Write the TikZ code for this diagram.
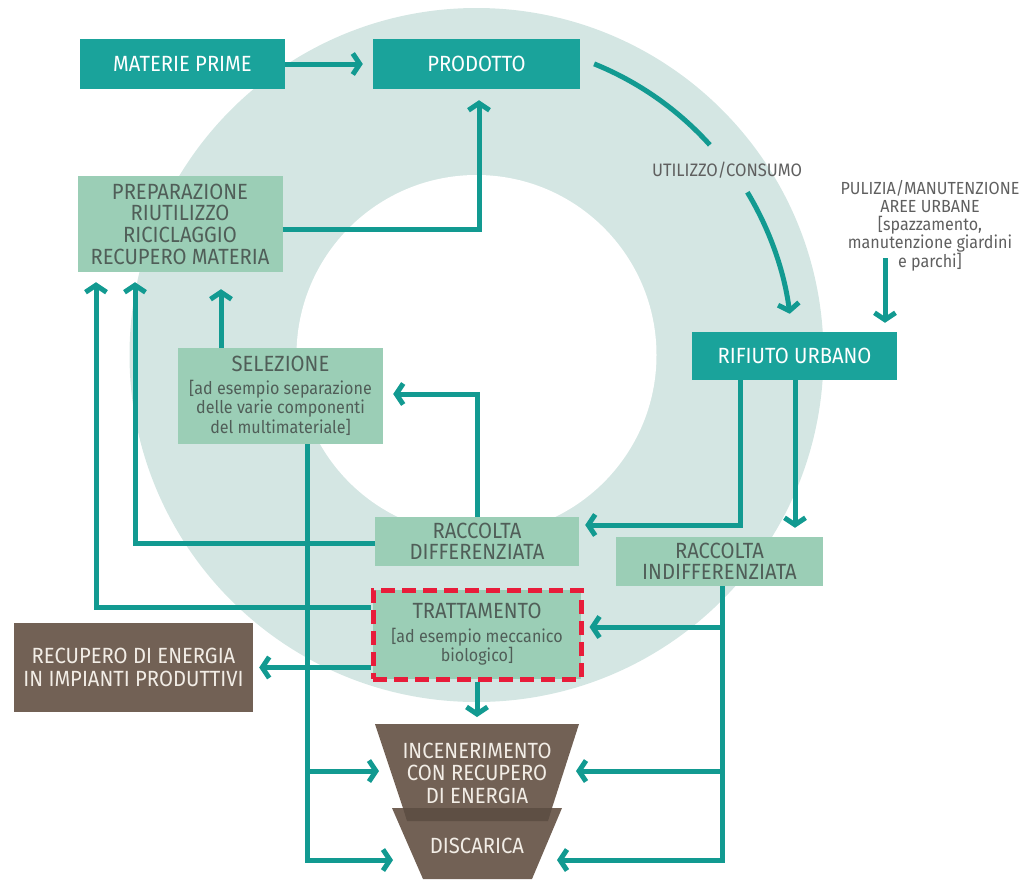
\documentclass[tikz,border=0pt]{standalone}
\usepackage{fontspec}
\setmainfont{Fira Sans}[FakeStretch=0.92]
\usetikzlibrary{arrows.meta}
\definecolor{ringc}{RGB}{212,230,227}
\definecolor{tealbox}{RGB}{26,163,155}
\definecolor{tealline}{RGB}{18,154,145}
\definecolor{lightbox}{RGB}{155,206,182}
\definecolor{lighttext}{RGB}{80,94,88}
\definecolor{brownbox}{RGB}{114,97,85}
\definecolor{browndark}{RGB}{94,79,68}
\definecolor{redline}{RGB}{232,28,58}
\definecolor{greytext}{RGB}{95,95,95}
\definecolor{browntext}{RGB}{242,237,230}
\newcommand\bigsz{\fontsize{22}{22.5}\selectfont}
\newcommand\subsz{\fontsize{17.5}{19.5}\selectfont}
\tikzset{
  basenode/.style={inner sep=0pt, align=center, anchor=center},
  tealnode/.style={basenode, fill=tealbox, text=white, font=\bigsz},
  lightnode/.style={basenode, fill=lightbox, text=lighttext, font=\bigsz},
  brownnode/.style={basenode, fill=brownbox, text=browntext, font=\bigsz},
  browntxt/.style={basenode, text=browntext, font=\bigsz},
  greylabel/.style={basenode, text=greytext},
  conn/.style={draw=tealline, line width=5pt},
  flow/.style={conn, -{Straight Barb[length=7pt,width=21pt]}}
}
\begin{document}
\begin{tikzpicture}[x=1pt,y=-1pt]
\useasboundingbox (0,0) rectangle (1026,879);
\clip (0,0) rectangle (1026,879);
% ring
\coordinate (C) at (476.5,355);
\fill[ringc] (C) circle (347pt);
\fill[white] (C) circle (180pt);

% boxes
\node[tealnode, minimum width=205pt, minimum height=50pt] (mat) at (182.5,64) {MATERIE PRIME};
\node[tealnode, minimum width=207pt, minimum height=50pt] (prod) at (476.5,64) {PRODOTTO};
\node[lightnode, minimum width=205pt, minimum height=96pt, font=\fontsize{22}{21.7}\selectfont] (prep) at (180,224) {PREPARAZIONE\\RIUTILIZZO\\RICICLAGGIO\\RECUPERO MATERIA};
\node[tealnode, minimum width=205pt, minimum height=48pt] (rif) at (794.5,356) {RIFIUTO URBANO};
\node[lightnode, minimum width=205pt, minimum height=96pt, font=\subsz] (sel) at (280.5,396) {{\bigsz SELEZIONE}\\[3pt]{[}ad esempio separazione\\delle varie componenti\\del multimateriale{]}};
\node[lightnode, minimum width=204pt, minimum height=49pt, font=\fontsize{22}{21}\selectfont] (rdiff) at (477,541.5) {RACCOLTA\\DIFFERENZIATA};
\node[lightnode, minimum width=207pt, minimum height=49pt, font=\fontsize{22}{21}\selectfont] (rind) at (719.5,561.5) {RACCOLTA\\INDIFFERENZIATA};
\node[lightnode, minimum width=208pt, minimum height=89pt, font=\subsz, draw=redline, line width=5pt, dash pattern=on 14pt off 7pt] (tratt) at (477,634.5) {{\bigsz TRATTAMENTO}\\[4pt]{[}ad esempio meccanico\\biologico{]}};
\node[brownnode, minimum width=239pt, minimum height=89pt] (recup) at (133.5,667.5) {RECUPERO DI ENERGIA\\IN IMPIANTI PRODUTTIVI};

% labels
\node[greylabel, font=\fontsize{18}{18}\selectfont] (uti) at (727,170) {UTILIZZO/CONSUMO};
\node[greylabel, font=\fontsize{17.5}{18}\selectfont] (puli) at (930,226) {PULIZIA/MANUTENZIONE\\AREE URBANE\\{[}spazzamento,\\manutenzione giardini\\e parchi{]}};

% funnel
\fill[brownbox] (392,808) -- (562,808) -- (532,879) -- (423,879) -- cycle;
\fill[brownbox] (375,724) -- (579,724) -- (552,808) -- (403,808) -- cycle;
\fill[browndark] (403,808) -- (552,808) -- (548,821) -- (407,821) -- cycle;
\node[browntxt] (incen) at (477,773) {INCENERIMENTO\\CON RECUPERO\\DI ENERGIA};
\node[browntxt] (disc) at (477,846) {DISCARICA};

% coordinates for free ends
\coordinate (u1) at ([shift={(68:314pt)}]C);
\coordinate (u2) at ([shift={(31:316pt)}]C);
\coordinate (p0) at (885,258);
\coordinate (selb) at ([xshift=26.5pt]sel.south);
\coordinate (rindb) at ([xshift=2.5pt]rind.south);
\coordinate (incL) at (379,771);
\coordinate (incR) at (576,771);
\coordinate (incT) at (477,717);
\coordinate (discL) at (393,860);
\coordinate (discR) at (557,860);
\coordinate (trR) at ([xshift=6pt,yshift=7.5pt]tratt.east);

% connectors
\draw[flow] (mat.east) -- ([xshift=-10pt]prod.west);
\draw[flow] ([yshift=-5pt]prep.east) -| ([xshift=2.5pt,yshift=-11pt]prod.south);
\draw[conn] (u1) arc[start angle=68, end angle=42, radius=314pt];
\draw[flow] (u2) arc[start angle=31, end angle=7.5, radius=316pt];
\draw[flow] (p0) -- ([xshift=90.5pt,yshift=9pt]rif.north);
\draw[flow] ([xshift=-54.5pt]rif.south) |- ([xshift=6pt,yshift=16.5pt]rdiff.east);
\draw[flow] ([xshift=0.5pt]rif.south) -- ([xshift=75.5pt,yshift=9pt]rind.north);
\draw[flow] (rdiff.north) |- ([xshift=10pt,yshift=2pt]sel.east);
\draw[flow] ([xshift=-59.5pt]sel.north) -- ([xshift=41pt,yshift=-17pt]prep.south);
\draw[flow] ([yshift=-1.5pt]rdiff.west) -| ([xshift=-45pt,yshift=-10pt]prep.south);
\draw[flow] ([yshift=27.5pt]tratt.west) -| ([xshift=-84pt,yshift=-10pt]prep.south);
\draw[flow] (tratt.west |- recup.east) -- ([xshift=6pt]recup.east);
\draw[flow] (selb) |- (discL);
\draw[flow] (selb |- incL) -- (incL);
\draw[flow] (tratt.south) -- (incT);
\draw[flow] (rindb) |- (discR);
\draw[flow] (rindb |- trR) -- (trR);
\draw[flow] (rindb |- incR) -- (incR);
\end{tikzpicture}
\end{document}
